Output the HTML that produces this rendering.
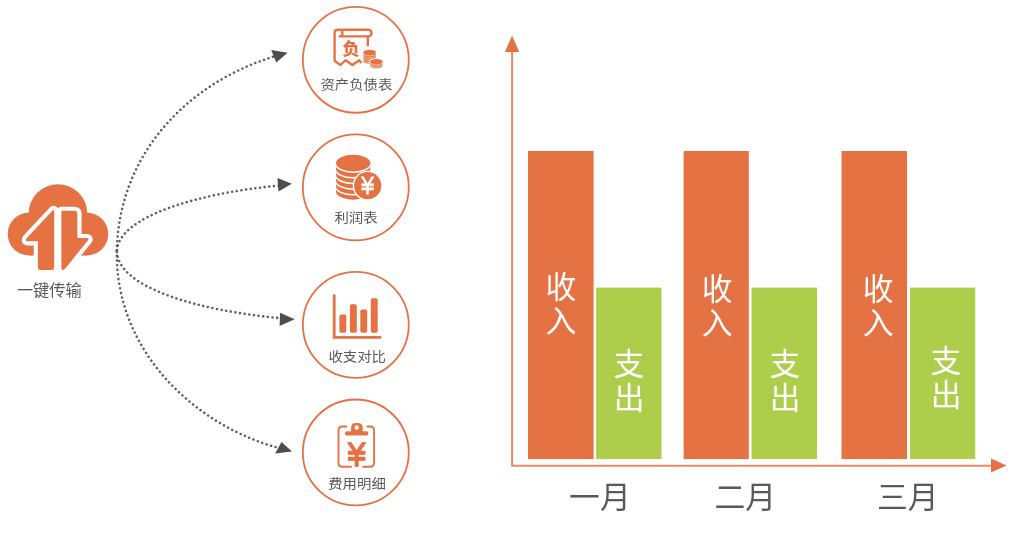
<!DOCTYPE html>
<html lang="zh-CN">
<head>
<meta charset="utf-8">
<title>一键传输</title>
<style>
html,body{margin:0;padding:0;background:#fff;}
body{width:1014px;height:542px;overflow:hidden;position:relative;font-family:"Liberation Sans","Noto Sans CJK SC",sans-serif;}
svg{position:absolute;left:0;top:0;display:block;}
text{font-family:"Liberation Sans","Noto Sans CJK SC",sans-serif;}
svg{opacity:0.999;will-change:transform;}
.lbl{font-size:14.4px;fill:#595959;font-weight:400;text-anchor:middle;}
.mon{font-size:30.8px;fill:#595959;font-weight:400;text-anchor:start;}
.bar{font-size:30.8px;fill:#fff;font-weight:400;text-anchor:middle;}
.dot{fill:none;stroke:#5e5e5e;stroke-width:2.55;stroke-linecap:round;stroke-dasharray:0.01 4.66;}
.ah{fill:#4d4d4d;}
.yen{font-family:"Liberation Sans","IPAGothic",sans-serif;}
.ring{fill:none;stroke:#E57243;stroke-width:1.8;}
</style>
</head>
<body>
<svg width="1014" height="542" viewBox="0 0 1014 542">
<!-- cloud -->
<g id="cloud" fill="#E57243">
  <circle cx="58" cy="213.5" r="29.3"/>
  <circle cx="29.2" cy="234" r="21.5"/>
  <circle cx="86.7" cy="234" r="21.5"/>
  <rect x="29" y="220" width="58" height="35.5"/>
  <path d="M54.2 267.5 V211.3 Q54.2 209 52.4 210.8 L26.6 238.3 Q24.5 241.3 28 241.3 H37.85 V267.5 Q37.85 270 40.4 270 H51.7 Q54.2 270 54.2 267.5 Z" stroke="#fff" stroke-width="8.3" stroke-linejoin="round" paint-order="stroke"/>
  <path d="M61.35 210.8 H74.4 Q77.4 210.8 77.4 213.8 V238.1 H87 Q89.6 238.3 88 240.3 L64.8 269 Q63.5 270.4 62.3 269.8 Q61.35 269.3 61.35 268 Z" stroke="#fff" stroke-width="8.3" stroke-linejoin="round" paint-order="stroke"/>
</g>
<text class="lbl" x="49.3" y="296" style="font-size:16.2px">一键传输</text>

<!-- dotted connectors -->
<g id="links">
  <path class="dot" d="M116.8 250.6 C119.4 149.8 191.4 82 273.6 56.6"/>
  <path class="dot" d="M117 250 C119.8 216.5 197.8 193 279.4 185.6"/>
  <path class="dot" d="M117 252 C118.8 288.1 199.5 310.7 280.5 318.2"/>
  <path class="dot" d="M116.8 251.1 C115.4 356.3 201 427.3 278.6 447.9"/>
  <path class="ah" d="M287.6 52.7 L271.2 49.9 L276.3 62.6 Z"/>
  <path class="ah" d="M291.8 183.8 L277.4 178.1 L278.5 191.4 Z"/>
  <path class="ah" d="M294.7 319.3 L280.1 312.7 L279.6 326 Z"/>
  <path class="ah" d="M292 451.5 L281.5 441.9 L275.1 453.5 Z"/>
</g>

<!-- rings -->
<circle class="ring" cx="355.8" cy="59.8" r="52.95"/>
<circle class="ring" cx="355.8" cy="187.35" r="52.95"/>
<circle class="ring" cx="355.8" cy="324.85" r="52.95"/>
<circle class="ring" cx="355.8" cy="452.45" r="52.95"/>
<text class="lbl" transform="translate(356.4 89.3) scale(1 0.9)">资产负债表</text>
<text class="lbl" transform="translate(356 222.3) scale(1 0.9)">利润表</text>
<text class="lbl" transform="translate(357.2 360.7) scale(1 0.9)">收支对比</text>
<text class="lbl" transform="translate(357 487.8) scale(1 0.9)">费用明细</text>

<!-- icon 1: balance sheet -->
<g id="ic1" fill="none" stroke="#E57243" stroke-width="2.35" stroke-linecap="round" stroke-linejoin="round">
  <path d="M361.4 63 L359.1 60.2 L352.4 65 L345.7 60.2 L340.4 65 L334.6 60.8 V33 Q334.6 29.7 337.9 29.7 H368.3 A3.3 3.3 0 0 1 368.3 36.3 H338.6 M342.3 29.7 V36.3" stroke-linecap="butt"/>
  <path d="M367.8 36.5 V46.4" stroke-linecap="butt"/>
  <text x="351.1" y="55.1" style="font-size:17.2px;font-weight:900;text-anchor:middle;fill:#E57243;stroke:none">负</text>
  <g fill="#E57243" stroke="none">
    <path d="M363.4 52.4 A6.25 2.6 0 0 1 375.9 52.4 V61.2 A6.25 2.6 0 0 1 363.4 61.2 Z"/>
    <path d="M363.4 53.3 A6.25 2.6 0 0 0 375.9 53.3 M363.4 55.5 A6.25 2.6 0 0 0 375.9 55.5 M363.4 57.7 A6.25 2.6 0 0 0 375.9 57.7 M363.4 59.9 A6.25 2.6 0 0 0 375.9 59.9" fill="none" stroke="#fff" stroke-width="0.55"/>
    <path d="M370.1 61.5 A6.25 2.5 0 0 1 382.6 61.5 V65.9 A6.25 2.5 0 0 1 370.1 65.9 Z" stroke="#fff" stroke-width="1.6" paint-order="stroke"/>
    <path d="M370.1 62.4 A6.25 2.5 0 0 0 382.6 62.4 M370.1 64.4 A6.25 2.5 0 0 0 382.6 64.4 M370.1 66.2 A6.25 2.5 0 0 0 382.6 66.2" fill="none" stroke="#fff" stroke-width="0.55"/>
  </g>
</g>
<!-- icon 2: profit -->
<g id="ic2" fill="#E57243">
  <path d="M336.00 185.82 V191.50 A17.2 8.3 0 0 0 370.40 191.50 V185.82 A17.2 8.3 0 0 0 336.00 185.82 Z" stroke="#fff" stroke-width="3" paint-order="stroke"/>
  <path d="M336.00 180.14 V185.82 A17.2 8.3 0 0 0 370.40 185.82 V180.14 A17.2 8.3 0 0 0 336.00 180.14 Z" stroke="#fff" stroke-width="3" paint-order="stroke"/>
  <path d="M336.00 174.46 V180.14 A17.2 8.3 0 0 0 370.40 180.14 V174.46 A17.2 8.3 0 0 0 336.00 174.46 Z" stroke="#fff" stroke-width="3" paint-order="stroke"/>
  <path d="M336.00 168.78 V174.46 A17.2 8.3 0 0 0 370.40 174.46 V168.78 A17.2 8.3 0 0 0 336.00 168.78 Z" stroke="#fff" stroke-width="3" paint-order="stroke"/>
  <path d="M336.00 163.10 V168.78 A17.2 8.3 0 0 0 370.40 168.78 V163.10 A17.2 8.3 0 0 0 336.00 163.10 Z" stroke="#fff" stroke-width="3" paint-order="stroke"/>
  <ellipse cx="353.2" cy="163.1" rx="17.2" ry="8.3" stroke="#fff" stroke-width="3" paint-order="stroke"/>
  <circle cx="367.7" cy="185.7" r="13.6" stroke="#fff" stroke-width="2.8" paint-order="stroke"/>
  <text transform="translate(367.6 195.1) scale(0.87 1)" class="yen" style="font-size:23.2px;font-weight:700;text-anchor:middle;fill:#fff">￥</text>
</g>
<!-- icon 3: compare -->
<g id="ic3" fill="#E57243">
  <path d="M334.2 295.6 V337.4 H380.2" fill="none" stroke="#E57243" stroke-width="2.8" stroke-linecap="round" stroke-linejoin="miter"/>
  <rect x="339.4" y="314.5" width="6.9" height="18.2" rx="1.7"/>
  <rect x="349.9" y="304.2" width="6.9" height="28.5" rx="1.7"/>
  <rect x="360.3" y="309.5" width="6.9" height="23.2" rx="1.7"/>
  <rect x="370.8" y="298.2" width="6.9" height="34.5" rx="1.7"/>
</g>
<!-- icon 4: expense detail -->
<g id="ic4" fill="#E57243">
  <path d="M346.4 426.5 H342.5 Q338.5 426.5 338.5 430.5 V462.7 Q338.5 466.7 342.5 466.7 H351 M367.3 426.5 H370.1 Q374.1 426.5 374.1 430.5 V462.7 Q374.1 466.7 370.1 466.7 H363" fill="none" stroke="#E57243" stroke-width="1.9" stroke-linecap="round"/>
  <path fill-rule="evenodd" d="M351.1 431.3 V427.6 Q351.1 422.9 355.8 422.9 H358 Q362.7 422.9 362.7 427.6 V431.3 H366.4 A2.1 2.1 0 0 1 366.4 435.5 H347 A2.1 2.1 0 0 1 347 431.3 Z M356.7 425.3 A2.2 2.2 0 1 0 356.7 429.7 A2.2 2.2 0 1 0 356.7 425.3 Z"/>
  <text transform="translate(356.7 468) scale(0.86 1)" class="yen" style="font-size:32.3px;font-weight:700;text-anchor:middle;fill:#E57243;stroke:#E57243;stroke-width:0.5;stroke-linejoin:round">￥</text>
</g>

<!-- chart -->
<g id="chart">
  <rect x="528" y="151" width="65.6" height="308.1" fill="#E57243"/>
  <rect x="596.1" y="287.6" width="65.4" height="171.5" fill="#AECD4A"/>
  <rect x="683.6" y="151" width="65.2" height="308.1" fill="#E57243"/>
  <rect x="751.6" y="287.6" width="65.4" height="171.5" fill="#AECD4A"/>
  <rect x="841.5" y="151" width="65.5" height="308.1" fill="#E57243"/>
  <rect x="909.9" y="287.6" width="65.3" height="171.5" fill="#AECD4A"/>
  <path d="M512.1 44 V465.75 H995" fill="none" stroke="#EA8A62" stroke-width="2" stroke-linejoin="round"/>
  <path d="M512.05 35.6 L504.9 52 L519.2 52 Z" fill="#E57243"/>
  <path d="M1006.6 465.6 L991 458.6 L991 472.4 Z" fill="#E57243"/>
  <text class="bar"><tspan x="561.0" y="298.0">收</tspan><tspan x="561.0" y="332.0">入</tspan></text>
  <text class="bar"><tspan x="628.9" y="374.7">支</tspan><tspan x="629.1" y="408.5">出</tspan></text>
  <text class="bar"><tspan x="717.1" y="300.4">收</tspan><tspan x="717.1" y="334.4">入</tspan></text>
  <text class="bar"><tspan x="784.9" y="374.7">支</tspan><tspan x="785.1" y="408.5">出</tspan></text>
  <text class="bar"><tspan x="878.2" y="300.4">收</tspan><tspan x="878.2" y="334.3">入</tspan></text>
  <text class="bar"><tspan x="946.0" y="372.3">支</tspan><tspan x="946.2" y="406.0">出</tspan></text>
  <text class="mon" x="569.1" y="508.4">一月</text>
  <text class="mon" x="714.4" y="508.4">二月</text>
  <text class="mon" x="876.9" y="508.4">三月</text>
</g>
</svg>
</body>
</html>
